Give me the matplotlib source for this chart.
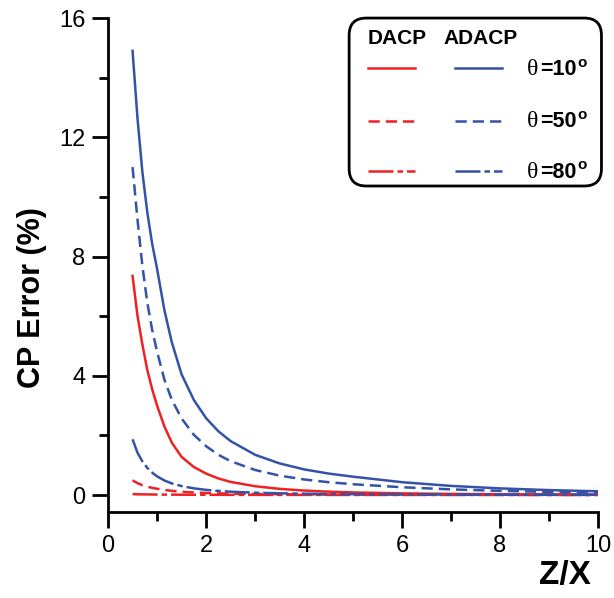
import matplotlib
matplotlib.use("Agg")
import matplotlib.pyplot as plt
from matplotlib.patches import FancyBboxPatch

plt.rcParams['font.family'] = ['Liberation Sans', 'DejaVu Sans']

# Z/X positions
zx = [0.5, 0.6, 0.7, 0.8, 0.9, 1.0, 1.15, 1.3, 1.5, 1.75, 2.0, 2.25, 2.5,
      3.0, 3.5, 4.0, 4.5, 5.0, 6.0, 7.0, 8.0, 9.0, 10.0]

# ADACP
adacp_10 = [14.9, 12.65, 10.84, 9.49, 8.43, 7.59, 6.2, 5.13, 4.05, 3.19, 2.58, 2.14, 1.81,
            1.35, 1.06, 0.86, 0.72, 0.615, 0.43, 0.306, 0.222, 0.165, 0.125]
adacp_50 = [11.0, 9.25, 7.69, 6.46, 5.54, 4.81, 3.87, 3.2, 2.57, 2.02, 1.64, 1.35, 1.135,
            0.84, 0.651, 0.522, 0.43, 0.362, 0.261, 0.189, 0.139, 0.105, 0.08]
adacp_80 = [1.87, 1.42, 1.13, 0.91, 0.75, 0.627, 0.487, 0.39, 0.30, 0.224, 0.173, 0.137, 0.111,
            0.077, 0.057, 0.044, 0.035, 0.028, 0.02, 0.015, 0.011, 0.009, 0.007]
# DACP
dacp_10 = [7.35, 6.02, 5.05, 4.2, 3.55, 3.0, 2.3, 1.76, 1.28, 0.94, 0.72, 0.556, 0.44,
           0.295, 0.207, 0.15, 0.112, 0.086, 0.055, 0.037, 0.027, 0.02, 0.015]
dacp_50 = [0.49, 0.40, 0.33, 0.28, 0.24, 0.21, 0.17, 0.14, 0.11, 0.085, 0.067, 0.055, 0.046,
           0.034, 0.026, 0.02, 0.016, 0.013, 0.01, 0.008, 0.006, 0.005, 0.004]
dacp_80 = [0.03, 0.025, 0.022, 0.02, 0.018, 0.016, 0.014, 0.012, 0.01, 0.009, 0.008, 0.007, 0.006,
           0.005, 0.004, 0.004, 0.003, 0.003, 0.002, 0.002, 0.002, 0.001, 0.001]

angles = ['10', '50', '80']

red = '#ee2124'
blue = '#3352a8'
lw = 1.8
styles = ['-', (0, (4.5, 2.4)), (0, (10, 1.6, 2.2, 1.6))]

fig = plt.figure(figsize=(6.14, 5.98), dpi=100)
ax = fig.add_axes([0.176, 0.1438, 0.798, 0.826])

for vals, ls in zip([dacp_10, dacp_50, dacp_80], styles):
    ax.plot(zx, vals, color=red, lw=lw, linestyle=ls)
for vals, ls in zip([adacp_10, adacp_50, adacp_80], styles):
    ax.plot(zx, vals, color=blue, lw=lw, linestyle=ls)

ax.set_xlim(0, 10)
ax.set_ylim(-0.57, 16)
ax.set_xticks([0, 2, 4, 6, 8, 10])
ax.set_xticks([1, 3, 5, 7, 9], minor=True)
ax.set_yticks([0, 4, 8, 12, 16])
ax.set_yticks([2, 6, 10, 14], minor=True)
ax.spines['top'].set_visible(False)
ax.spines['right'].set_visible(False)
for s in ['left', 'bottom']:
    ax.spines[s].set_linewidth(2)
ax.tick_params(which='major', direction='out', length=11.5, width=2, labelsize=17, pad=5)
ax.tick_params(which='minor', direction='out', length=6.5, width=2)

ax.set_ylabel('CP Error (%)', fontsize=22, fontweight='bold')
ax.yaxis.set_label_coords(-0.125, 0.435)
fig.text(0.963, 0.012, 'Z/X', fontsize=24, fontweight='bold', ha='right', va='bottom')

# legend box drawn by hand
box = FancyBboxPatch((0.492, 0.66), 0.515, 0.34, transform=ax.transAxes,
                     boxstyle='round,pad=0,rounding_size=0.035',
                     fc='white', ec='black', lw=2, clip_on=False, zorder=5)
ax.add_patch(box)
ax.text(0.59, 0.958, 'DACP', transform=ax.transAxes, fontsize=15, fontweight='bold',
        ha='center', va='center', zorder=6)
ax.text(0.76, 0.958, 'ADACP', transform=ax.transAxes, fontsize=15, fontweight='bold',
        ha='center', va='center', zorder=6)
rows_y = [0.898, 0.792, 0.69]
for ang, ls, ry in zip(angles, styles, rows_y):
    ax.plot([0.53, 0.627], [ry, ry], transform=ax.transAxes, color=red, lw=lw,
            linestyle=ls, clip_on=False, zorder=6)
    ax.plot([0.708, 0.805], [ry, ry], transform=ax.transAxes, color=blue, lw=lw,
            linestyle=ls, clip_on=False, zorder=6)
    ax.text(0.855, ry - 0.002, '\u03b8', transform=ax.transAxes, fontsize=17,
            family='Liberation Serif', ha='left', va='center', zorder=6)
    ax.text(0.882, ry - 0.002, '=' + ang, transform=ax.transAxes, fontsize=15.5,
            fontweight='bold', ha='left', va='center', zorder=6)
    ax.text(0.958, ry + 0.012, 'o', transform=ax.transAxes, fontsize=11,
            fontweight='bold', ha='left', va='center', zorder=6)

fig.savefig('out.png', dpi=100)
